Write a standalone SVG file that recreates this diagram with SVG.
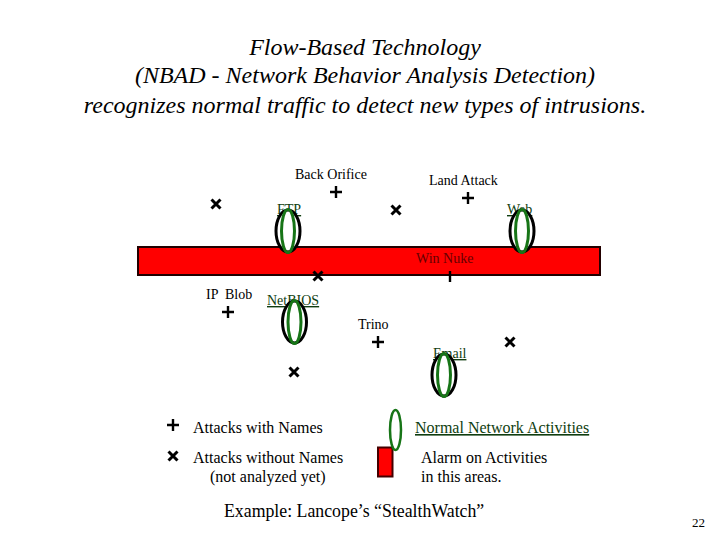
<svg xmlns="http://www.w3.org/2000/svg" width="720" height="540" viewBox="0 0 720 540">
<style>
text{font-family:"Liberation Serif","Times New Roman",serif;fill:#000}
.t{font-size:24px;font-style:italic;text-anchor:middle}
.l{font-size:14px}
.g{font-size:14px;fill:#0f3d0f;text-decoration:underline}
.k{font-size:16px}
.m{stroke:#000;stroke-width:2.4;fill:none}
.w{stroke:#000;stroke-width:3;fill:none}
.o{fill:#fff;stroke:#000;stroke-width:3}
.i{fill:none;stroke:#177517;stroke-width:3}
</style>
<defs>
<g id="p"><path class="m" d="M-6 0H6M0-6V6"/></g>
<g id="x"><path class="w" d="M-4.500-4.500L4.500 4.500M-4.500 4.500L4.500-4.500"/></g>
<g id="e"><ellipse class="o" rx="12" ry="21"/><ellipse class="i" rx="6.500" ry="21.500"/></g>
</defs>
<g id="title">
<text class="t" x="365" y="55">Flow-Based Technology</text>
<text class="t" x="365" y="83">(NBAD - Network Behavior Analysis Detection)</text>
<text class="t" x="365" y="113">recognizes normal traffic to detect new types of intrusions.</text>
</g>
<g id="red-bar"><rect x="138" y="247" width="462" height="28" fill="#f00" stroke="#200" stroke-width="2"/></g>
<g id="connectors"></g>
<g id="ftp"><text class="g" x="277" y="214">FTP</text><use href="#e" x="288" y="231"/></g>
<g id="netbios"><text class="g" x="267" y="305">NetBIOS</text><use href="#e" x="294.500" y="322"/></g>
<g id="web"><text class="g" x="507" y="214">Web</text><use href="#e" x="522" y="231"/></g>
<g id="email"><text class="g" x="433" y="358">Email</text><use href="#e" x="444" y="375"/></g>
<g id="back-orifice"><text class="l" x="295" y="179">Back Orifice</text><use href="#p" x="336" y="192"/></g>
<g id="land-attack"><text class="l" x="429" y="185">Land Attack</text><use href="#p" x="468" y="198"/></g>
<g id="ip-blob"><text class="l" x="206" y="299" xml:space="preserve">IP  Blob</text><use href="#p" x="228" y="312"/></g>
<g id="trino"><text class="l" x="358" y="329">Trino</text><use href="#p" x="378" y="342"/></g>
<g id="win-nuke"><text class="l" x="416" y="263" style="fill:#600">Win Nuke</text><path class="m" d="M450 271V282"/></g>
<g id="x1"><use href="#x" x="216" y="204"/></g>
<g id="x2"><use href="#x" x="396" y="210"/></g>
<g id="x3"><use href="#x" x="318" y="276"/></g>
<g id="x4"><use href="#x" x="510" y="342"/></g>
<g id="x5"><use href="#x" x="294" y="372"/></g>
<g id="legend">
<use href="#p" x="173" y="425"/>
<use href="#x" x="173" y="456"/>
<text class="k" x="193" y="433">Attacks with Names</text>
<text class="k" x="193" y="463">Attacks without Names</text>
<text class="k" x="210" y="482">(not analyzed yet)</text>
<rect x="378" y="447.500" width="14.500" height="29" fill="#f00" stroke="#400" stroke-width="2"/>
<ellipse cx="395.500" cy="430" rx="5.500" ry="20" fill="none" stroke="#177517" stroke-width="2.500"/>
<text class="k" x="415" y="433" style="fill:#0f3d0f;text-decoration:underline">Normal Network Activities</text>
<text class="k" x="421" y="463">Alarm on Activities</text>
<text class="k" x="421" y="482">in this areas.</text>
<text x="224" y="517" style="font-size:17.800px">Example: Lancope’s “StealthWatch”</text>
</g>
<g id="page"><text x="692" y="527" style="font-size:13px">22</text></g>
</svg>
